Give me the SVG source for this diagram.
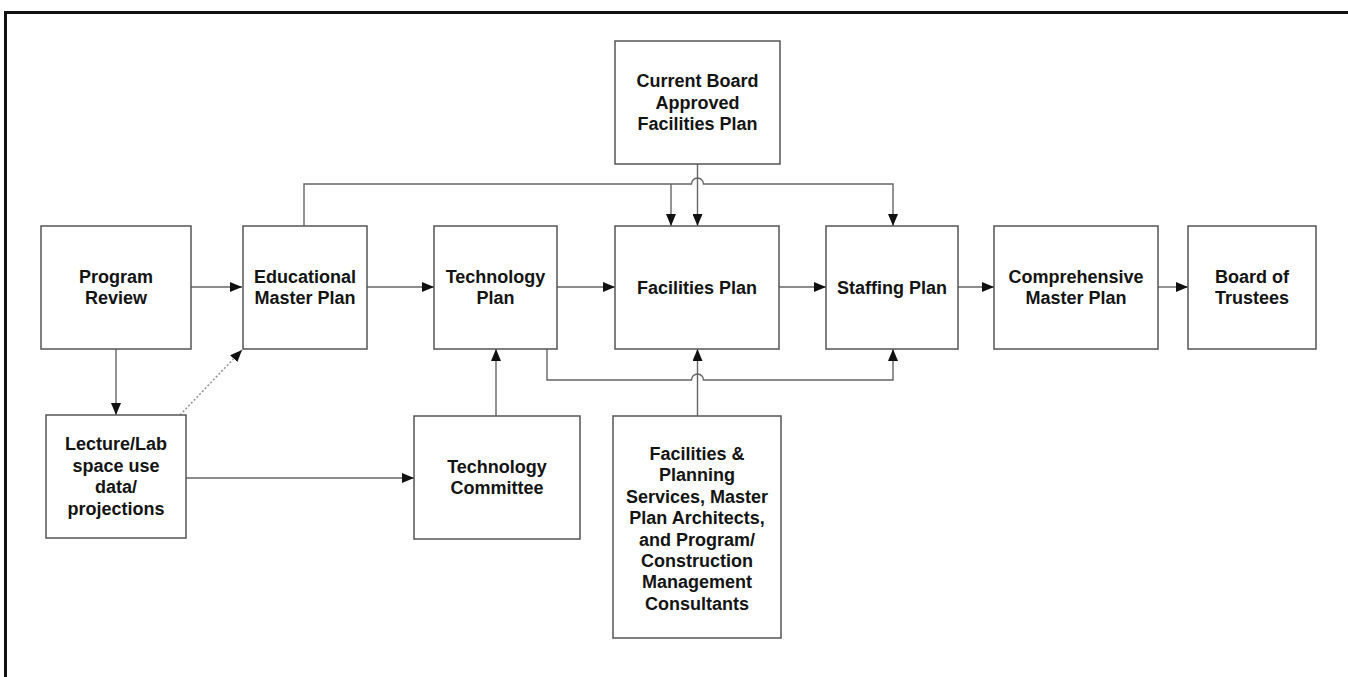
<svg xmlns="http://www.w3.org/2000/svg" width="1348" height="677" viewBox="0 0 1348 677">
<style>
.box{fill:#fff;stroke:#555;stroke-width:1.5}
.t{font-family:"Liberation Sans",Arial,sans-serif;font-weight:bold;font-size:18px;fill:#141414;text-anchor:middle}
.c{fill:none;stroke:#666;stroke-width:1.4}
.d{fill:none;stroke:#999;stroke-width:1.6;stroke-dasharray:2 2}
</style>
<defs>
<marker id="ah" viewBox="0 0 12 10" refX="12" refY="5" markerWidth="12" markerHeight="10" markerUnits="userSpaceOnUse" orient="auto">
<path d="M0,0 L12,5 L0,10 z" fill="#111"/>
</marker>
</defs>
<rect width="1348" height="677" fill="#fff"/>
<path d="M5.5 677 V12.5 H1348" fill="none" stroke="#111" stroke-width="3"/>

<g id="connectors">
<path class="c" d="M191 287 H242" marker-end="url(#ah)"/>
<path class="c" d="M367 287 H434" marker-end="url(#ah)"/>
<path class="c" d="M557 287 H615" marker-end="url(#ah)"/>
<path class="c" d="M779 287 H826" marker-end="url(#ah)"/>
<path class="c" d="M958 287 H994" marker-end="url(#ah)"/>
<path class="c" d="M1158 287 H1188" marker-end="url(#ah)"/>
<path class="c" d="M116 349 V415" marker-end="url(#ah)"/>
<path class="d" d="M180 415 L242 350" marker-end="url(#ah)"/>
<path class="c" d="M186 478 H414" marker-end="url(#ah)"/>
<path class="c" d="M496 416 V349" marker-end="url(#ah)"/>
<path class="c" d="M697.5 164 V226" marker-end="url(#ah)"/>
<path class="c" d="M304 226 V184 H691.5 A6 6 0 0 1 703.5 184 H893 V226" marker-end="url(#ah)"/>
<path class="c" d="M671 184 V226" marker-end="url(#ah)"/>
<path class="c" d="M547 349 V380 H691.5 A6 6 0 0 1 703.5 380 H893 V349" marker-end="url(#ah)"/>
<path class="c" d="M697.5 416 V349" marker-end="url(#ah)"/>
</g>

<g id="current-board">
<rect class="box" x="615" y="41" width="165" height="123"/>
<text class="t" x="697.5" y="87">Current Board</text>
<text class="t" x="697.5" y="108.5">Approved</text>
<text class="t" x="697.5" y="130">Facilities Plan</text>
</g>
<g id="program-review">
<rect class="box" x="41" y="226" width="150" height="123"/>
<text class="t" x="116" y="283">Program</text>
<text class="t" x="116" y="304">Review</text>
</g>
<g id="educational-master-plan">
<rect class="box" x="243" y="226" width="124" height="123"/>
<text class="t" x="305" y="283">Educational</text>
<text class="t" x="305" y="304">Master Plan</text>
</g>
<g id="technology-plan">
<rect class="box" x="434" y="226" width="123" height="123"/>
<text class="t" x="495.5" y="283">Technology</text>
<text class="t" x="495.5" y="304">Plan</text>
</g>
<g id="facilities-plan">
<rect class="box" x="615" y="226" width="164" height="123"/>
<text class="t" x="697" y="293.5">Facilities Plan</text>
</g>
<g id="staffing-plan">
<rect class="box" x="826" y="226" width="132" height="123"/>
<text class="t" x="892" y="293.5">Staffing Plan</text>
</g>
<g id="comprehensive-master-plan">
<rect class="box" x="994" y="226" width="164" height="123"/>
<text class="t" x="1076" y="283">Comprehensive</text>
<text class="t" x="1076" y="304">Master Plan</text>
</g>
<g id="board-of-trustees">
<rect class="box" x="1188" y="226" width="128" height="123"/>
<text class="t" x="1252" y="283">Board of</text>
<text class="t" x="1252" y="304">Trustees</text>
</g>
<g id="lecture-lab">
<rect class="box" x="46" y="415" width="140" height="123"/>
<text class="t" x="116" y="450">Lecture/Lab</text>
<text class="t" x="116" y="471.5">space use</text>
<text class="t" x="116" y="493">data/</text>
<text class="t" x="116" y="514.5">projections</text>
</g>
<g id="technology-committee">
<rect class="box" x="414" y="416" width="166" height="123"/>
<text class="t" x="497" y="473">Technology</text>
<text class="t" x="497" y="494">Committee</text>
</g>
<g id="facilities-planning-services">
<rect class="box" x="613" y="416" width="168" height="222"/>
<text class="t" x="697" y="460">Facilities &amp;</text>
<text class="t" x="697" y="481.4">Planning</text>
<text class="t" x="697" y="502.8">Services, Master</text>
<text class="t" x="697" y="524.2">Plan Architects,</text>
<text class="t" x="697" y="545.6">and Program/</text>
<text class="t" x="697" y="567">Construction</text>
<text class="t" x="697" y="588.4">Management</text>
<text class="t" x="697" y="609.8">Consultants</text>
</g>
</svg>
